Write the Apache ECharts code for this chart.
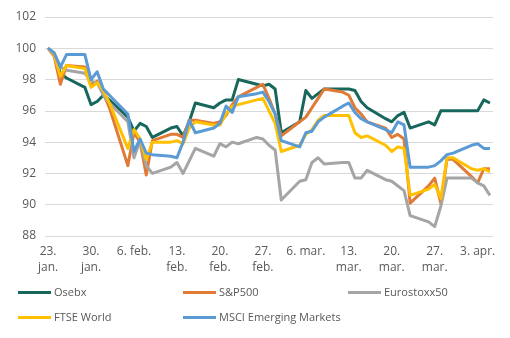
<!DOCTYPE html>
<html><head><meta charset="utf-8">
<script src="https://cdn.jsdelivr.net/npm/echarts@6/dist/echarts.min.js"></script>
<style>html,body{margin:0;padding:0;background:#fff}#c{width:510px;height:338px}</style>
</head><body><div id="c"></div>
<script>
// Trading days (2018) – day offset from 23 Jan
const tradingDayOffsets = [0,1,2,3,6,7,8,9,10,13,14,15,16,17,20,21,22,23,24,27,28,29,30,31,34,35,36,37,38,41,42,43,44,45,48,49,50,51,52,55,56,57,58,59,62,63,64,65,66,69,70,71,72];
const osebx = [100,99.6,98.4,98.1,97.5,96.4,96.6,97.0,96.7,95.6,94.7,95.2,95.0,94.3,94.9,95.0,94.4,95.3,96.5,96.2,96.5,96.7,96.7,98.0,97.7,97.6,97.7,97.4,94.6,95.3,97.3,96.8,97.1,97.4,97.4,97.4,97.3,96.6,96.2,95.5,95.3,95.7,95.9,94.9,95.3,95.1,96.0,96.0,96.0,96.0,96.0,96.7,96.5];
const sp500 = [100,99.5,97.7,98.9,98.8,97.6,97.9,97.1,96.2,92.5,94.6,94.0,91.9,94.1,94.5,94.5,94.3,95.4,95.4,95.2,95.3,95.7,96.4,96.9,97.5,97.7,96.8,95.8,94.4,95.3,95.6,96.2,96.8,97.4,97.2,97.0,96.2,95.8,95.3,94.9,94.3,94.5,94.2,90.1,91.2,91.7,90.1,92.9,92.9,91.8,91.4,92.3,92.3];
const eurostoxx50 = [100,99.7,98.8,98.6,98.4,97.9,97.8,97.0,96.5,95.3,93.0,94.1,92.5,92.0,92.4,92.7,92.0,92.8,93.6,93.1,93.9,93.7,94.0,93.9,94.3,94.2,93.8,93.5,90.3,91.5,91.6,92.7,93.0,92.6,92.7,92.7,91.7,91.7,92.2,91.6,91.5,91.2,90.9,89.3,88.9,88.6,89.9,91.7,91.7,91.7,91.4,91.2,90.6];
const ftseWorld = [100,99.6,98.2,98.9,98.7,97.5,97.8,97.3,96.5,93.6,94.8,94.2,92.9,94.0,94.0,94.1,93.9,94.9,95.3,95.1,95.1,95.8,96.3,96.4,96.7,96.8,96.0,95.2,93.4,93.8,94.5,94.8,95.4,95.7,95.7,95.7,94.6,94.3,94.4,93.8,93.4,93.7,93.6,90.6,91.0,91.3,90.4,93.0,93.0,92.3,92.2,92.3,92.1];
const msciEM = [100,99.7,98.8,99.6,99.6,98.0,98.5,97.4,97.0,95.8,93.4,94.2,93.3,93.2,93.1,93.0,94.0,95.4,94.6,94.9,95.2,96.3,95.9,96.9,97.1,97.2,96.6,95.8,94.1,93.7,94.6,94.7,95.3,95.6,96.3,96.5,95.9,95.5,95.3,94.8,94.6,95.3,95.1,92.4,92.4,92.5,92.8,93.2,93.3,93.8,93.9,93.6,93.6];
const seriesNames = ['Osebx','S&P500','Eurostoxx50','FTSE World','MSCI Emerging Markets'];
const seriesColors = ['#17675C','#E07A35','#A5A5A5','#FFC000','#5B9BD5'];
const monthNames = ['jan.','feb.','mar.','apr.'];
const yTicks = {min:88, max:102, interval:2};

// calendar-day categories 23 Jan – 5 Apr 2018
const categories = [];
for (let i=0;i<=72;i++){ const d=new Date(2018,0,23+i); categories.push(d.getDate()+'. '+monthNames[d.getMonth()]); }
function toCalendar(vals){ const arr=new Array(categories.length).fill(null); tradingDayOffsets.forEach((o,k)=>arr[o]=vals[k]); return arr; }
const allVals=[osebx,sp500,eurostoxx50,ftseWorld,msciEM];

const chart = echarts.init(document.getElementById('c'));
const legendPos = [[13,282],[178,282],[343,282],[13,307],[178,307]];
chart.setOption({
  animation:false,
  textStyle:{fontFamily:'"Open Sans", "Noto Sans", sans-serif'},
  grid:{left:45,right:17,top:17,bottom:102},
  legend: seriesNames.map((n,i)=>({data:[n],left:legendPos[i][0],top:legendPos[i][1],itemWidth:33,itemHeight:3,itemGap:0,icon:'rect',
     textStyle:{color:'#595959',fontSize:11,padding:[0,0,0,-2]}})),
  xAxis:{type:'category',data:categories,boundaryGap:true,
    axisLine:{show:false},axisTick:{show:false},
    axisLabel:{interval:6,color:'#595959',fontSize:12,margin:8,lineHeight:16,
      formatter:v=>v.length>7?v.replace(' ','\n'):v}},
  yAxis:{type:'value',min:yTicks.min,max:yTicks.max,interval:yTicks.interval,
    axisLine:{show:false},axisTick:{show:false},
    axisLabel:{color:'#595959',fontSize:12,margin:9},
    splitLine:{lineStyle:{color:'#D9D9D9',width:1}}},
  series: seriesNames.map((n,i)=>({name:n,type:'line',data:toCalendar(allVals[i]),connectNulls:true,
    showSymbol:false,symbol:'none',color:seriesColors[i],lineStyle:{width:3,color:seriesColors[i],join:'round'}}))
});
</script></body></html>
